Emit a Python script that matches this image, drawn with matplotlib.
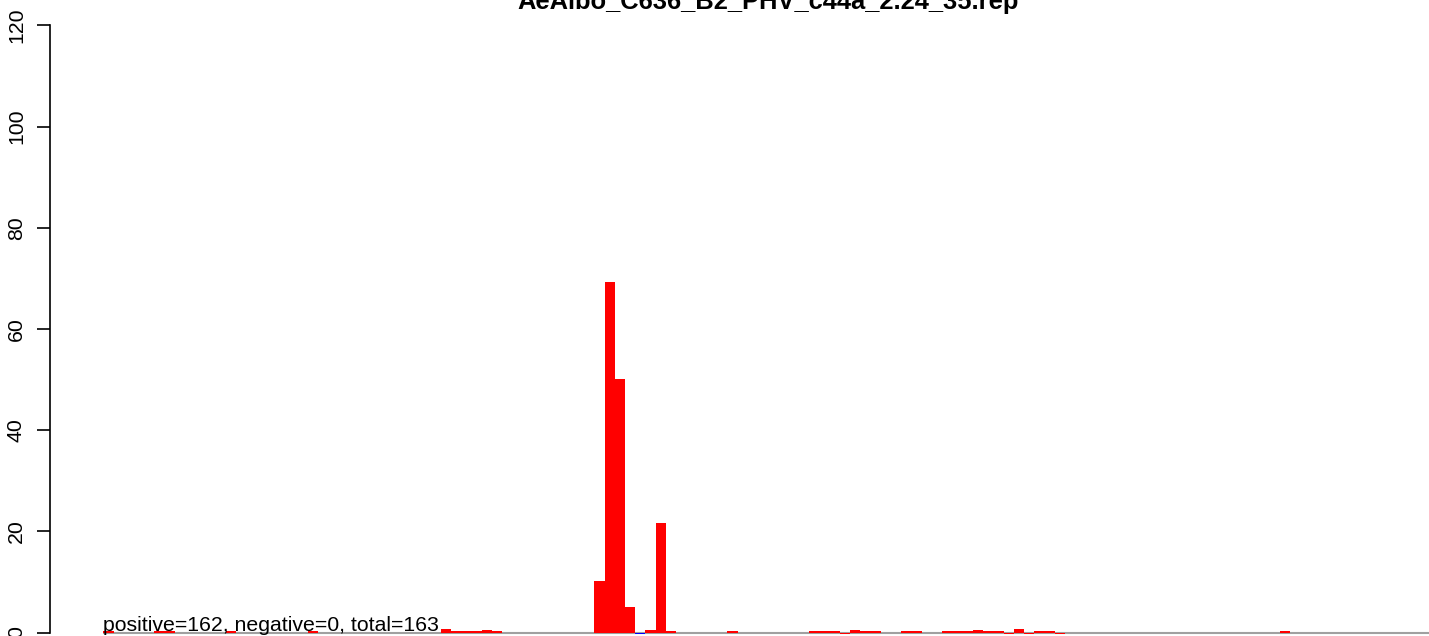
"""
Repeat-length style barplot (R look) recreated with matplotlib.
"""

import numpy as np
import matplotlib.pyplot as plt

plt.rcParams['font.family'] = ['Liberation Sans', 'DejaVu Sans']

# ---------------------------------------------------------
# Data (bin index -> count)
# ---------------------------------------------------------
title = "AeAlbo_C636_B2_PHV_c44a_2.24_35.rep"
summary = "positive=162, negative=0, total=163"

pos_bins = [0, 5, 6, 12, 20, 33, 34, 35, 36, 37, 38,
            48, 49, 50, 51, 53, 54, 55,
            61, 69, 70, 71, 73, 74, 75,
            78, 79, 82, 83, 84, 85, 86, 87, 89, 91, 92, 115]
pos_vals = [0.2, 0.2, 0.2, 0.2, 0.2, 0.6, 0.2, 0.2, 0.2, 0.5, 0.2,
            10.1, 69.3, 50.1, 5.0, 0.5, 21.6, 0.2,
            0.2, 0.2, 0.2, 0.2, 0.5, 0.2, 0.2,
            0.2, 0.2, 0.2, 0.2, 0.2, 0.5, 0.2, 0.2, 0.7, 0.2, 0.2, 0.2]

low_bins = [72, 88, 90, 93]
low_vals = [-0.3, -0.3, -0.3, -0.3]

neg_bins = [52]
neg_vals = [-0.3]

yticks = [0, 20, 40, 60, 80, 100, 120]

# ---------------------------------------------------------
# Figure
# ---------------------------------------------------------
W, H = 1429, 636
fig = plt.figure(figsize=(W / 100, H / 100), dpi=100)
ax = fig.add_axes([50 / W, 0, 1 - 50 / W, 1])

# baseline
ax.hlines(0, 0, 140, color='#a0a0a0', lw=1.5, zorder=1)

ax.bar(pos_bins, pos_vals, width=1, align='edge', color='red', lw=0, zorder=2)
ax.bar(low_bins, low_vals, width=1, align='edge', color='red', lw=0, zorder=2)
ax.bar(neg_bins, neg_vals, width=1, align='edge', color='blue', lw=0, zorder=2)

ax.text(0, 0.25, summary, fontsize=15.3, ha='left', va='baseline', zorder=3)

# pixel mapping: bin i starts at 103.3 + 10.23*i ; y 0 -> 632.5, 5.06 px/unit
bw = 10.23
ax.set_xlim((50 - 103.3) / bw, (W - 103.3) / bw)
ax.set_ylim(-(H - 632.5) / 5.06, 632.5 / 5.06)

for s in ['top', 'right', 'bottom']:
    ax.spines[s].set_visible(False)
ax.spines['left'].set_bounds(0, 120)
ax.spines['left'].set_linewidth(1.2)
ax.set_xticks([])
ax.set_yticks(yticks)
ax.tick_params(axis='y', direction='out', length=9.3, width=1.2,
               labelsize=15.3, pad=8)
for lab in ax.get_yticklabels():
    lab.set_rotation(90)
    lab.set_va('center')

fig.text(768 / W, 1 - 9 / H, title, ha='center', va='baseline',
         fontsize=18.4, fontweight='bold')

fig.savefig('out.png', dpi=100)
